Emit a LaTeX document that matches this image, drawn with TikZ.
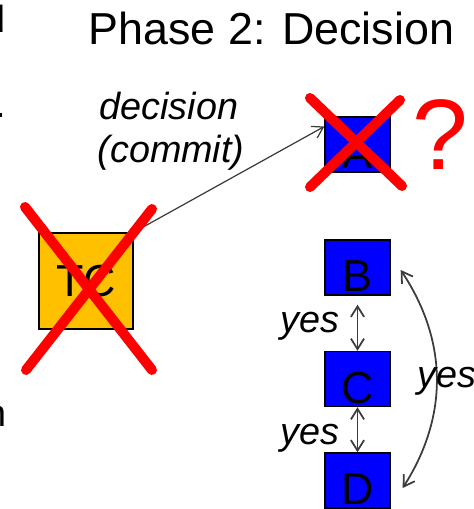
\documentclass[tikz,border=0pt]{standalone}
\usepackage{fontspec}
\setmainfont{Liberation Sans}
\usepackage{xcolor}
\usepackage{tikz}
\usepackage{tkz-euclide}
\usetikzlibrary{calc,arrows.meta}

\definecolor{siteblue}{RGB}{0,0,255}
\definecolor{tcorange}{RGB}{255,192,0}
\definecolor{wiregray}{RGB}{60,60,60}

\tikzset{
	site/.style={draw=black,line width=0.8pt,fill=siteblue,inner sep=0pt,
		minimum width=1.3cm,minimum height=1.1cm,text height=0.98cm,text depth=0pt,
		font=\fontsize{25.5}{30}\selectfont},
	coordinator/.style={draw=black,line width=0.8pt,fill=tcorange,inner sep=0pt,
		minimum width=1.88cm,minimum height=1.92cm,font=\fontsize{25.5}{30}\selectfont},
	lbl/.style={inner sep=0pt,font=\itshape\fontsize{21.5}{26}\selectfont},
	frag/.style={anchor=base east,inner sep=0pt,font=\fontsize{21.5}{26}\selectfont},
	msg/.style={draw=wiregray,line width=0.7pt,-{Straight Barb[length=6pt,width=7.5pt]}},
	vote/.style={draw=wiregray,line width=1pt,{Straight Barb[length=6pt,width=7.5pt]}-{Straight Barb[length=6pt,width=7.5pt]}},
	veto/.style={red,line width=0.2cm}
}

\begin{document}
\begin{tikzpicture}[x=0.02cm,y=0.02cm]
			\path[use as bounding box,clip] (0,0) rectangle (473,509);
			\node[frag] (f1) at (6,476) {d};
			\node[frag] (f2) at (6,391) {.};
			\node[frag] (f3) at (6.5,82) {n};
			\node[anchor=base,inner sep=0pt,font=\fontsize{25.5}{30}\selectfont] (title) at (271.5,464) {Phase 2: Decision};
			\node[coordinator] (tc) at (86,228) {TC};
			\node[site] (a) at (357.5,364.5) {A};
			\node[site] (b) at (357.5,241.5) {B};
			\node[site] (c) at (357.5,130) {C};
			\node[site] (d) at (357.5,28.5) {D};
			\node[lbl,anchor=base] (dec) at (169,389) {decision};
			\node[lbl,anchor=base] (com) at (171,346) {(commit)};
			\draw[msg] (tc.north east) -- ([yshift=0.36cm]a.west);
			\draw[vote] ([yshift=-0.18cm]b.south) -- (c.north);
			\draw[vote] (c.south) -- (d.north);
			\draw[vote] ([shift={(10,-2.5)}]b.east) to[bend left=33] ([shift={(12,-7.5)}]d.east);
			\node[lbl,anchor=base east] (y1) at (340,176) {yes};
			\node[lbl,anchor=base east] (y2) at (340,64) {yes};
			\node[lbl,anchor=base west] (y3) at (417,121) {yes};
			\tkzDefPoint(25,302){X1}
			\tkzDefPoint(152,139){X2}
			\tkzDefPoint(152,300){X3}
			\tkzDefPoint(26,139){X4}
			\tkzDrawSegments[veto](X1,X2 X3,X4)
			\tkzDefPoint(310,411){Y1}
			\tkzDefPoint(402,323){Y2}
			\tkzDefPoint(400,409){Y3}
			\tkzDefPoint(310,322){Y4}
			\tkzDrawSegments[veto](Y1,Y2 Y3,Y4)
			\node[anchor=base,inner sep=0pt,text=red,font=\fontsize{57}{64}\selectfont] (q) at (440,339) {?};
		\end{tikzpicture}
\end{document}
